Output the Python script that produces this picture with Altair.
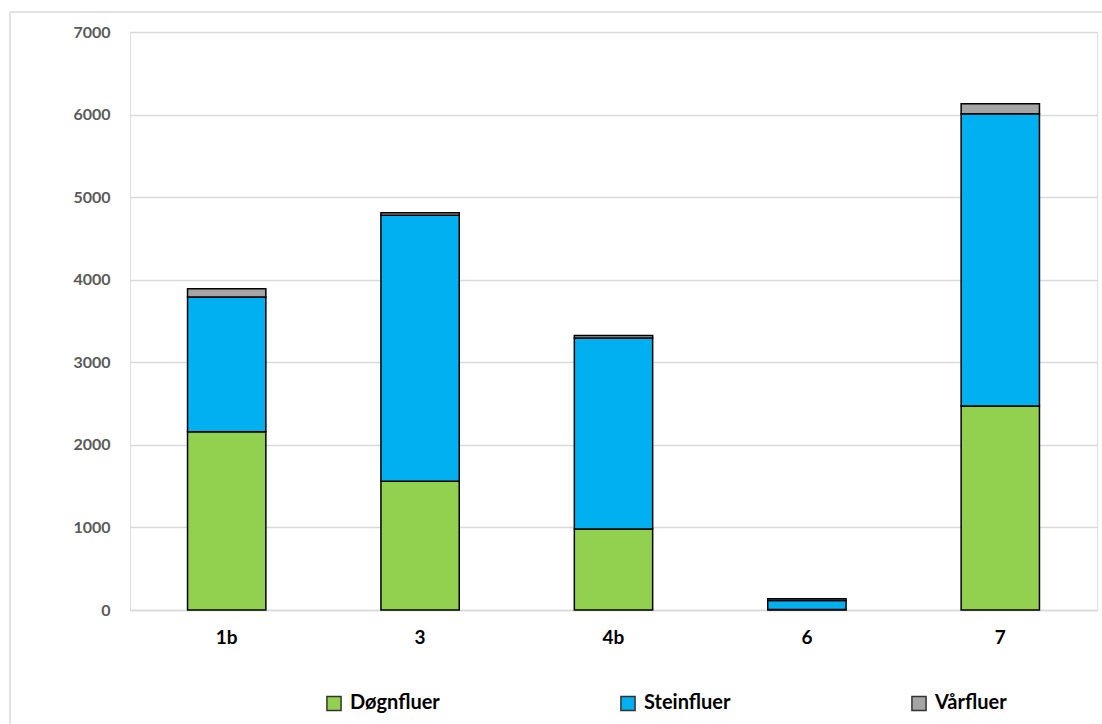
import altair as alt
import pandas as pd

stations = ["1b", "3", "4b", "6", "7"]
series = ["Døgnfluer", "Steinfluer", "Vårfluer"]
dogn = [2160, 1560, 980, 5, 2470]
stein = [1630, 3220, 2315, 110, 3540]
varf = [100, 30, 30, 20, 120]
colors = ["#92D050", "#00B0F0", "#A5A5A5"]

rows = []
for i, s in enumerate(stations):
    for j, (name, vals) in enumerate(zip(series, [dogn, stein, varf])):
        rows.append({"Stasjon": s, "Gruppe": name, "Antall": vals[i], "ord": j})
df = pd.DataFrame(rows)

FONT = "Lato"

bars = alt.Chart(df).mark_bar(stroke="black", strokeWidth=1.5).encode(
    x=alt.X("Stasjon:N", sort=stations, title=None,
            scale=alt.Scale(paddingInner=0.595, paddingOuter=0.2975),
            axis=alt.Axis(labelAngle=0, labelFont=FONT, labelFontWeight="bold",
                          labelFontSize=19, labelColor="black", labelPadding=18,
                          ticks=False, grid=False, domainColor="#d9d9d9", domainWidth=1.5)),
    y=alt.Y("Antall:Q", stack="zero", title=None,
            scale=alt.Scale(domain=[0, 7000], nice=False),
            axis=alt.Axis(values=[0, 1000, 2000, 3000, 4000, 5000, 6000, 7000],
                          format="d",
                          labelFont=FONT, labelFontWeight="bold", labelFontSize=16,
                          labelColor="#595959", labelPadding=20, ticks=False,
                          domain=False,
                          gridColor="#d9d9d9", gridWidth=1.3)),
    color=alt.Color("Gruppe:N", sort=series,
                    scale=alt.Scale(domain=series, range=colors),
                    legend=alt.Legend(title=None, orient="none", direction="horizontal",
                                      legendX=194, legendY=661, columns=3,
                                      columnPadding=177, symbolType="square",
                                      symbolSize=200, symbolStrokeColor="#333333",
                                      symbolStrokeWidth=1.5, labelFont=FONT,
                                      labelFontWeight="bold", labelFontSize=20,
                                      labelColor="black", labelOffset=6)),
    order=alt.Order("ord:Q"),
)

frame = pd.DataFrame({"a": [0]})
top_line = alt.Chart(frame).mark_rule(color="#d9d9d9", strokeWidth=1.5, clip=False).encode(
    x=alt.value(-120), x2=alt.value(1200), y=alt.value(-20))
left_line = alt.Chart(frame).mark_rule(color="#d9d9d9", strokeWidth=1.5, clip=False).encode(
    x=alt.value(-120), y=alt.value(-20), y2=alt.value(800))

chart = alt.layer(top_line, left_line, bars).properties(
    width=967, height=578,
    autosize=alt.AutoSizeParams(type="none"),
    padding={"left": 130, "top": 32, "right": 5, "bottom": 114},
).configure_view(strokeWidth=0, stroke="transparent"
).configure_axisY(domain=False
).configure_axisX(grid=False
).configure(background="white")

chart.save("out.html", embed_options={"renderer": "svg", "actions": False})
